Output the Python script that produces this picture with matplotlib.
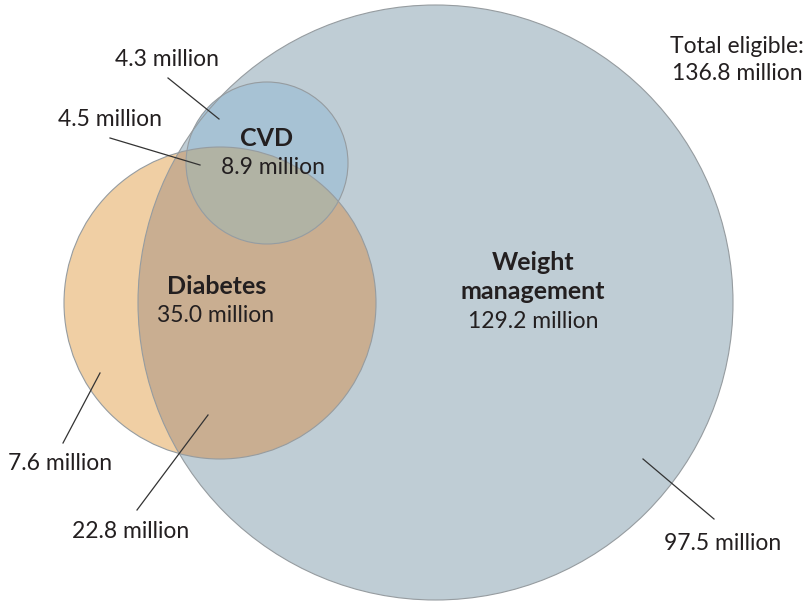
import matplotlib.pyplot as plt
from matplotlib.patches import Circle

# values shown on the chart
set_names = ["Weight\nmanagement", "Diabetes", "CVD"]
set_totals = ["129.2 million", "35.0 million", "8.9 million"]
region_labels = ["4.3 million", "4.5 million", "7.6 million", "22.8 million", "97.5 million"]
total_label = "Total eligible:\n136.8 million"

# circle geometry in pixel space (x, y, r)
geo = {"W": (435.5, 302.5, 297.5), "D": (220, 303, 156), "C": (267, 163, 81)}

col_w = "#bfcdd5"
col_d = "#f0cfa4"
col_dw = "#c9ae91"
col_c = "#a9c7dc"
col_cw = "#a7c2d4"
col_cd = "#b1b3a4"
edge = "#969ca0"

plt.rcParams['font.family'] = ['Lato', 'DejaVu Sans']
fig = plt.figure(figsize=(8.1, 6.05), dpi=100)
ax = fig.add_axes([0, 0, 1, 1])
ax.set_xlim(0, 810)
ax.set_ylim(605, 0)
ax.set_aspect('equal')
ax.axis('off')

def circ(key, fc, ec='none', lw=0, z=1):
    x, y, r = geo[key]
    return Circle((x, y), r, facecolor=fc, edgecolor=ec, linewidth=lw, zorder=z)

# invisible clip shapes
clipW = ax.add_patch(circ("W", 'none'))
clipW.set_visible(False)
clipD = ax.add_patch(circ("D", 'none'))
clipD.set_visible(False)

ax.add_patch(circ("W", col_w, z=1))
ax.add_patch(circ("D", col_d, z=2))
ax.add_patch(circ("D", col_dw, z=3)).set_clip_path(clipW)
ax.add_patch(circ("C", col_c, z=4))
ax.add_patch(circ("C", col_cw, z=5)).set_clip_path(clipW)
ax.add_patch(circ("C", col_cd, z=6)).set_clip_path(clipD)
for k in ["W", "D", "C"]:
    ax.add_patch(circ(k, 'none', ec=edge, lw=0.8, z=7))

dark = "#231f20"
fs = 16.5
fb = 18
ax.text(533, 277, set_names[0], ha='center', va='center', fontsize=fb,
        fontweight='bold', color=dark, linespacing=1.3, zorder=10)
ax.text(533, 322, set_totals[0], ha='center', va='center', fontsize=fs, color=dark, zorder=10)
ax.text(217, 287, set_names[1], ha='center', va='center', fontsize=fb,
        fontweight='bold', color=dark, zorder=10)
ax.text(216, 315, set_totals[1], ha='center', va='center', fontsize=fs, color=dark, zorder=10)
ax.text(267, 138, set_names[2], ha='center', va='center', fontsize=fb,
        fontweight='bold', color=dark, zorder=10)
ax.text(273, 168, set_totals[2], ha='center', va='center', fontsize=fs, color=dark, zorder=10)
ax.text(737, 60, total_label, ha='center', va='center', fontsize=fs, color=dark,
        linespacing=1.3, zorder=10)

label_pos = [(167, 59), (110, 119), (60, 464), (131, 532), (723, 544)]
leaders = [((168, 78), (219, 119)), ((110, 138), (200, 165)), ((100, 373), (63, 443)),
           ((208, 415), (137, 510)), ((643, 459), (714, 519))]
for lab, (tx, ty), (a, b) in zip(region_labels, label_pos, leaders):
    ax.text(tx, ty, lab, ha='center', va='center', fontsize=fs, color=dark, zorder=10)
    ax.plot([a[0], b[0]], [a[1], b[1]], color="#333333", lw=0.9, zorder=9)

fig.savefig("out.png", dpi=100)
